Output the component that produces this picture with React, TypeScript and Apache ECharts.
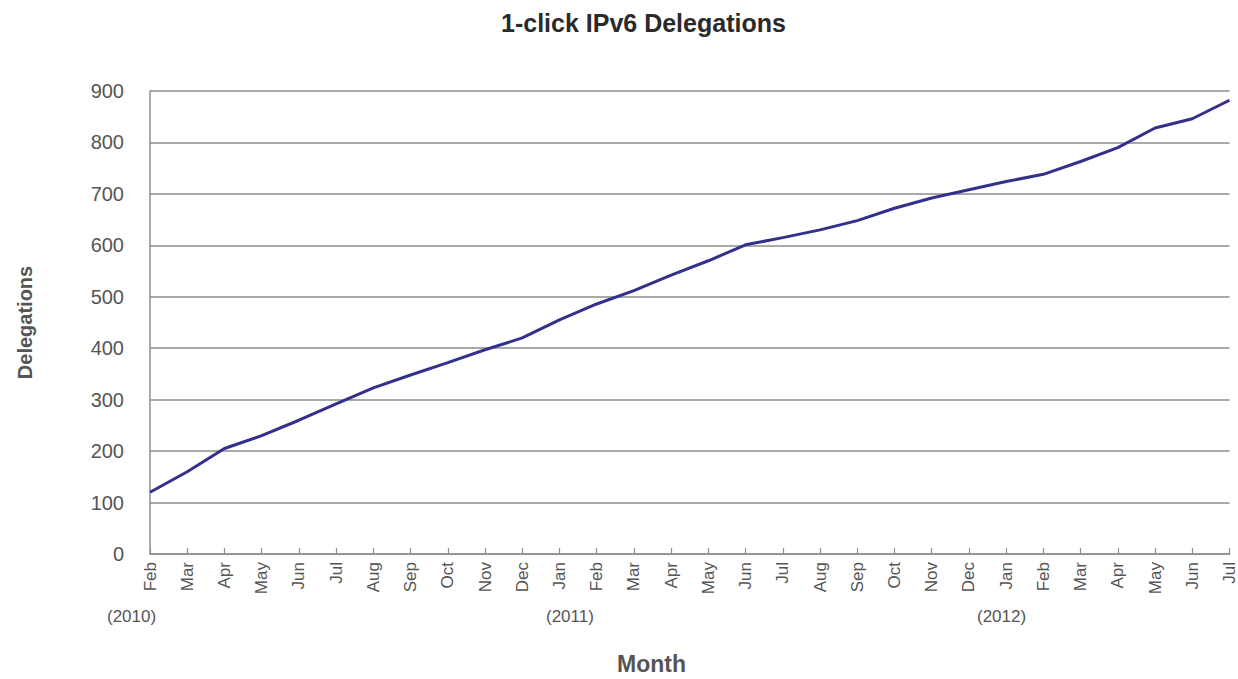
import React, { useEffect, useRef } from "react";
import * as echarts from "echarts";

const months: string[] = [
  "Feb", "Mar", "Apr", "May", "Jun", "Jul", "Aug", "Sep", "Oct", "Nov", "Dec",
  "Jan", "Feb", "Mar", "Apr", "May", "Jun", "Jul", "Aug", "Sep", "Oct", "Nov", "Dec",
  "Jan", "Feb", "Mar", "Apr", "May", "Jun", "Jul",
];

const delegations: number[] = [
  120, 160, 205, 230, 260, 292, 323, 348, 372, 397, 420,
  455, 486, 512, 542, 570, 601, 615, 630, 648, 672, 692, 708,
  724, 738, 763, 790, 828, 846, 882,
];

const yearLabels: string[] = ["(2010)", "(2011)", "(2012)"];
const yearLabelX: number[] = [107, 546, 977];

const titleText = "1-click IPv6 Delegations";
const yAxisTitle = "Delegations";
const xAxisTitle = "Month";

const FONT = "'Liberation Sans', Arial, Helvetica, sans-serif";

export default function App() {
  const ref = useRef<HTMLDivElement>(null);

  useEffect(() => {
    if (!ref.current) return;
    const chart = echarts.init(ref.current, null, { renderer: "svg" });
    chart.setOption({
      animation: false,
      backgroundColor: "#ffffff",
      title: {
        text: titleText,
        left: 496,
        top: 5,
        textStyle: { fontFamily: FONT, fontSize: 25, fontWeight: "bold", color: "#2a2a2a" },
      },
      grid: { left: 150, top: 91, right: 6, bottom: 125, containLabel: false },
      xAxis: {
        type: "category",
        data: months,
        boundaryGap: false,
        axisLine: { show: true, lineStyle: { color: "#8f8f8f", width: 1.5 } },
        axisTick: { show: true, inside: true, length: 6, lineStyle: { color: "#8f8f8f", width: 1.2 } },
        axisLabel: {
          rotate: 90,
          interval: 0,
          margin: 8,
          fontFamily: FONT,
          fontSize: 17,
          color: "#555555",
        },
        splitLine: { show: false },
      },
      yAxis: {
        type: "value",
        min: 0,
        max: 900,
        interval: 100,
        name: yAxisTitle,
        nameLocation: "middle",
        nameGap: 115,
        nameRotate: 90,
        nameTextStyle: { fontFamily: FONT, fontSize: 20, fontWeight: "bold", color: "#555555" },
        axisLine: { show: true, lineStyle: { color: "#8f8f8f", width: 1.5 } },
        axisTick: { show: false },
        axisLabel: { margin: 26, fontFamily: FONT, fontSize: 20, color: "#555555" },
        splitLine: { show: true, lineStyle: { color: "#8c8c8c", width: 1.5 } },
      },
      graphic: [
        ...yearLabels.map((t, i) => ({
          type: "text",
          left: yearLabelX[i],
          top: 608,
          style: { text: t, fontFamily: FONT, fontSize: 17, fill: "#555555" },
        })),
        {
          type: "text",
          left: 617,
          top: 652,
          style: { text: xAxisTitle, fontFamily: FONT, fontSize: 23, fontWeight: "bold", fill: "#555555" },
        },
      ],
      series: [
        {
          type: "line",
          data: delegations,
          symbol: "none",
          lineStyle: { color: "#33308c", width: 3 },
        },
      ],
    });
    return () => chart.dispose();
  }, []);

  return (
    <div
      ref={ref}
      style={{ position: "fixed", left: 0, top: 0, width: 1238, height: 679, background: "#fff" }}
    />
  );
}
